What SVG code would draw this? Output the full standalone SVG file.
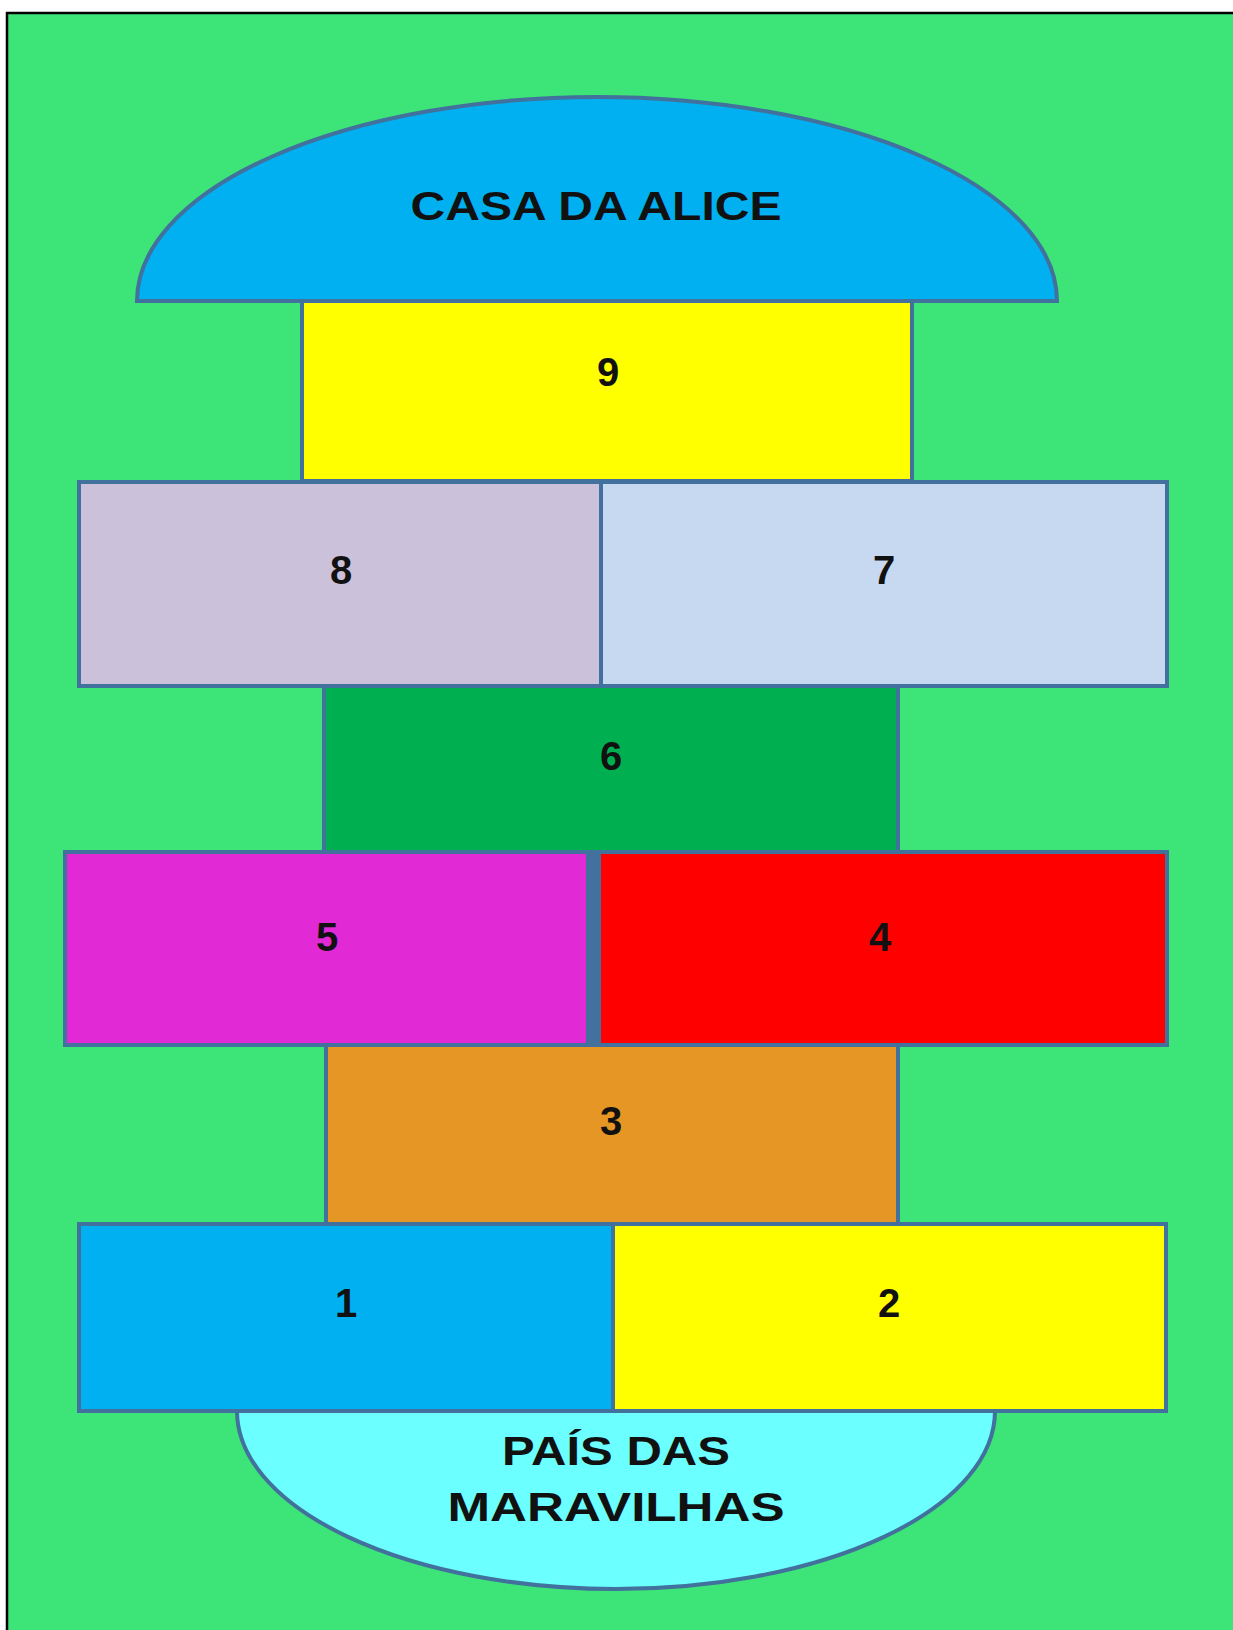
<svg xmlns="http://www.w3.org/2000/svg" width="1233" height="1630" viewBox="0 0 1233 1630">
<style>
.cell{stroke:#41719C;stroke-width:4}
.lbl{font-family:"Liberation Sans",Arial,sans-serif;font-weight:bold;font-size:40px;fill:#111;text-anchor:middle}
</style>
<rect x="0" y="0" width="1233" height="1630" fill="#ffffff"/>
<rect x="7" y="13" width="1240" height="1630" fill="#3DE579" stroke="#000" stroke-width="2.5"/>
<g id="casa">
<path class="cell" d="M137,301 A460,204 0 0 1 1057,301 Z" fill="#00B0F0"/>
<text class="lbl" x="596" y="220" textLength="371" lengthAdjust="spacingAndGlyphs">CASA DA ALICE</text>
</g>
<g id="c9"><rect class="cell" x="302" y="301" width="610" height="180" fill="#FFFF00"/><text class="lbl" x="608" y="386">9</text></g>
<g id="c8"><rect class="cell" x="79" y="482" width="522" height="204" fill="#CCC1DA"/><text class="lbl" x="341" y="584">8</text></g>
<g id="c7"><rect class="cell" x="601" y="482" width="566" height="204" fill="#C6D9F1"/><text class="lbl" x="884" y="584">7</text></g>
<g id="c6"><rect class="cell" x="324" y="686" width="574" height="166" fill="#00B050"/><text class="lbl" x="611" y="770">6</text></g>
<g id="c5"><rect class="cell" x="65" y="852" width="523" height="193" fill="#E12AD6"/><text class="lbl" x="327" y="951">5</text></g>
<rect x="588" y="852" width="11" height="193" fill="#41719C"/>
<g id="c4"><rect class="cell" x="599" y="852" width="568" height="193" fill="#FF0000"/><text class="lbl" x="880" y="951">4</text></g>
<g id="c3"><rect class="cell" x="326" y="1045" width="572" height="179" fill="#E69624"/><text class="lbl" x="611" y="1135">3</text></g>
<g id="c1"><rect class="cell" x="79" y="1224" width="534" height="187" fill="#00B0F0"/><text class="lbl" x="346" y="1317">1</text></g>
<g id="c2"><rect class="cell" x="613" y="1224" width="553" height="187" fill="#FFFF00"/><text class="lbl" x="889" y="1317">2</text></g>
<g id="pais">
<path class="cell" d="M237,1411 A379,178 0 0 0 995,1411 Z" fill="#6BFFFF"/>
<text class="lbl" x="616" y="1465" textLength="228" lengthAdjust="spacingAndGlyphs">PAÍS DAS</text>
<text class="lbl" x="616" y="1521" textLength="337" lengthAdjust="spacingAndGlyphs">MARAVILHAS</text>
</g>
<g id="connectors"></g>
</svg>
